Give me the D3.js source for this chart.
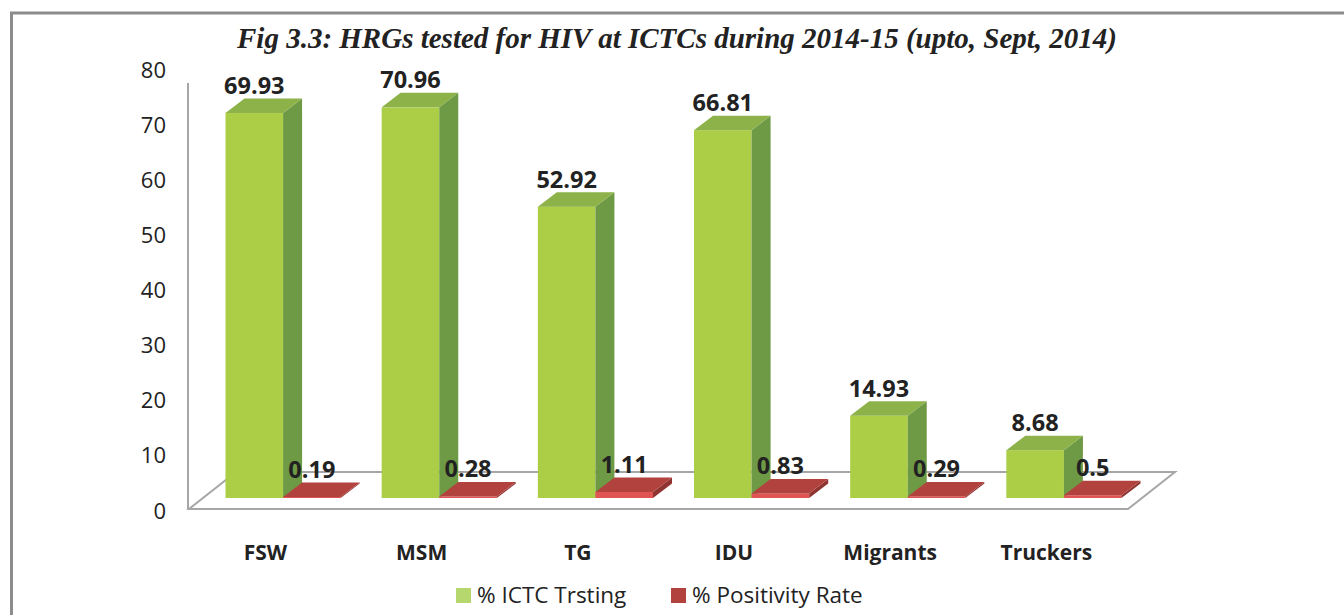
<!DOCTYPE html>
<html>
<head>
<meta charset="utf-8">
<script src="https://cdn.jsdelivr.net/npm/d3@7"></script>
<style>
  body { margin: 0; background: #fff; }
  svg { display: block; font-family: "Open Sans", sans-serif; }
</style>
</head>
<body>
<div id="chart"></div>
<script>
// data
const categories = ["FSW", "MSM", "TG", "IDU", "Migrants", "Truckers"];
const ictcTesting = [69.93, 70.96, 52.92, 66.81, 14.93, 8.68];
const positivityRate = [0.19, 0.28, 1.11, 0.83, 0.29, 0.5];
const seriesNames = ["% ICTC Trsting", "% Positivity Rate"];
const yTicks = [0, 10, 20, 30, 40, 50, 60, 70, 80];

const width = 1344, height = 615;

const svg = d3.select("#chart")
    .append("svg")
    .attr("width", width)
    .attr("height", height);

// outer frame
svg.append("rect")
    .attr("x", 11.5).attr("y", 13)
    .attr("width", width + 20).attr("height", height + 20)
    .attr("fill", "none")
    .attr("stroke", "#8c8c8c")
    .attr("stroke-width", 3);

// title
svg.append("text")
    .attr("x", 677)
    .attr("y", 48)
    .attr("text-anchor", "middle")
    .attr("font-family", "'Liberation Serif', serif")
    .attr("font-style", "italic")
    .attr("font-weight", "bold")
    .attr("font-size", "29px")
    .attr("fill", "#222")
    .text("Fig 3.3: HRGs tested for HIV at ICTCs during 2014-15 (upto, Sept, 2014)");

// scales
const x0 = d3.scaleBand()
    .domain(categories)
    .range([205, 1142])
    .paddingInner(0.2625)
    .paddingOuter(0.13125);

const x1 = d3.scaleBand()
    .domain(seriesNames)
    .range([0, x0.bandwidth()]);

const y = d3.scaleLinear().domain([0, 80]).range([498, 57.6]);
const yLabel = d3.scaleLinear().domain([0, 80]).range([511, 70.6]);

// 3d offsets
const bar = { dx: 19, dy: -14.5 };
const floor = { x0: 189, x1: 1128, y: 509, dx: 47, dy: -37 };

// floor
svg.append("path")
    .attr("d", `M${floor.x0},${floor.y} L${floor.x1},${floor.y} L${floor.x1 + floor.dx},${floor.y + floor.dy} L${floor.x0 + floor.dx},${floor.y + floor.dy} Z`)
    .attr("fill", "#fff")
    .attr("stroke", "#a6a6a6")
    .attr("stroke-width", 2);

// vertical axis line
svg.append("line")
    .attr("x1", 188).attr("x2", 188)
    .attr("y1", 83).attr("y2", floor.y)
    .attr("stroke", "#a6a6a6")
    .attr("stroke-width", 2);

// y axis labels
const yAxis = svg.append("g")
    .attr("transform", "translate(166,0)")
    .call(d3.axisLeft(yLabel).tickValues(yTicks).tickSize(0).tickPadding(0));
yAxis.select(".domain").remove();
yAxis.selectAll("text")
    .attr("font-family", "'Open Sans', sans-serif")
    .attr("font-size", "22px")
    .attr("fill", "#222");

const colors = {
    "% ICTC Trsting": { front: "#abce46", side: "#6f9a45", top: "#8cb249", legend: "#b6d66e" },
    "% Positivity Rate": { front: "#e05553", side: "#8f3431", top: "#b2423e", legend: "#b2423e" }
};

const rows = categories.map((c, i) => ({
    cat: c,
    values: [
        { series: seriesNames[0], value: ictcTesting[i] },
        { series: seriesNames[1], value: positivityRate[i] }
    ]
}));

// 3d bars
rows.forEach(r => {
    r.values.forEach(d => {
        const xl = x0(r.cat) + x1(d.series);
        const xr = xl + x1.bandwidth();
        const yt = y(d.value);
        const yb = y(0);
        const col = colors[d.series];
        const g = svg.append("g");

        g.append("rect")
            .attr("x", xl).attr("y", yt)
            .attr("width", xr - xl).attr("height", yb - yt)
            .attr("fill", col.front);

        g.append("path")
            .attr("d", `M${xr},${yt} L${xr + bar.dx},${yt + bar.dy} L${xr + bar.dx},${yb + bar.dy} L${xr},${yb} Z`)
            .attr("fill", col.side);

        g.append("path")
            .attr("d", `M${xl},${yt} L${xl + bar.dx},${yt + bar.dy} L${xr + bar.dx},${yt + bar.dy} L${xr},${yt} Z`)
            .attr("fill", col.top);
    });
});

// value labels
rows.forEach(r => {
    r.values.forEach(d => {
        svg.append("text")
            .attr("x", x0(r.cat) + x1(d.series) + x1.bandwidth() / 2)
            .attr("y", y(d.value) - 19)
            .attr("text-anchor", "middle")
            .attr("font-size", "23.5px")
            .attr("font-weight", "bold")
            .attr("fill", "#222")
            .text(d.value);
    });
});

// category labels
svg.selectAll(".cat")
    .data(categories)
    .enter()
    .append("text")
    .attr("class", "cat")
    .attr("x", d => x0(d) + 40)
    .attr("y", 560)
    .attr("text-anchor", "middle")
    .attr("font-size", "21px")
    .attr("font-weight", "bold")
    .attr("fill", "#222")
    .text(d => d);

// legend
const legendX = [456, 671];
const legend = svg.selectAll(".legend")
    .data(seriesNames)
    .enter()
    .append("g")
    .attr("class", "legend")
    .attr("transform", (d, i) => `translate(${legendX[i]},588)`);

legend.append("rect")
    .attr("width", 15).attr("height", 15)
    .attr("fill", d => colors[d].legend);

legend.append("text")
    .attr("x", 21)
    .attr("y", 15)
    .attr("font-size", "22.5px")
    .attr("fill", "#222")
    .text(d => d);
</script>
</body>
</html>
